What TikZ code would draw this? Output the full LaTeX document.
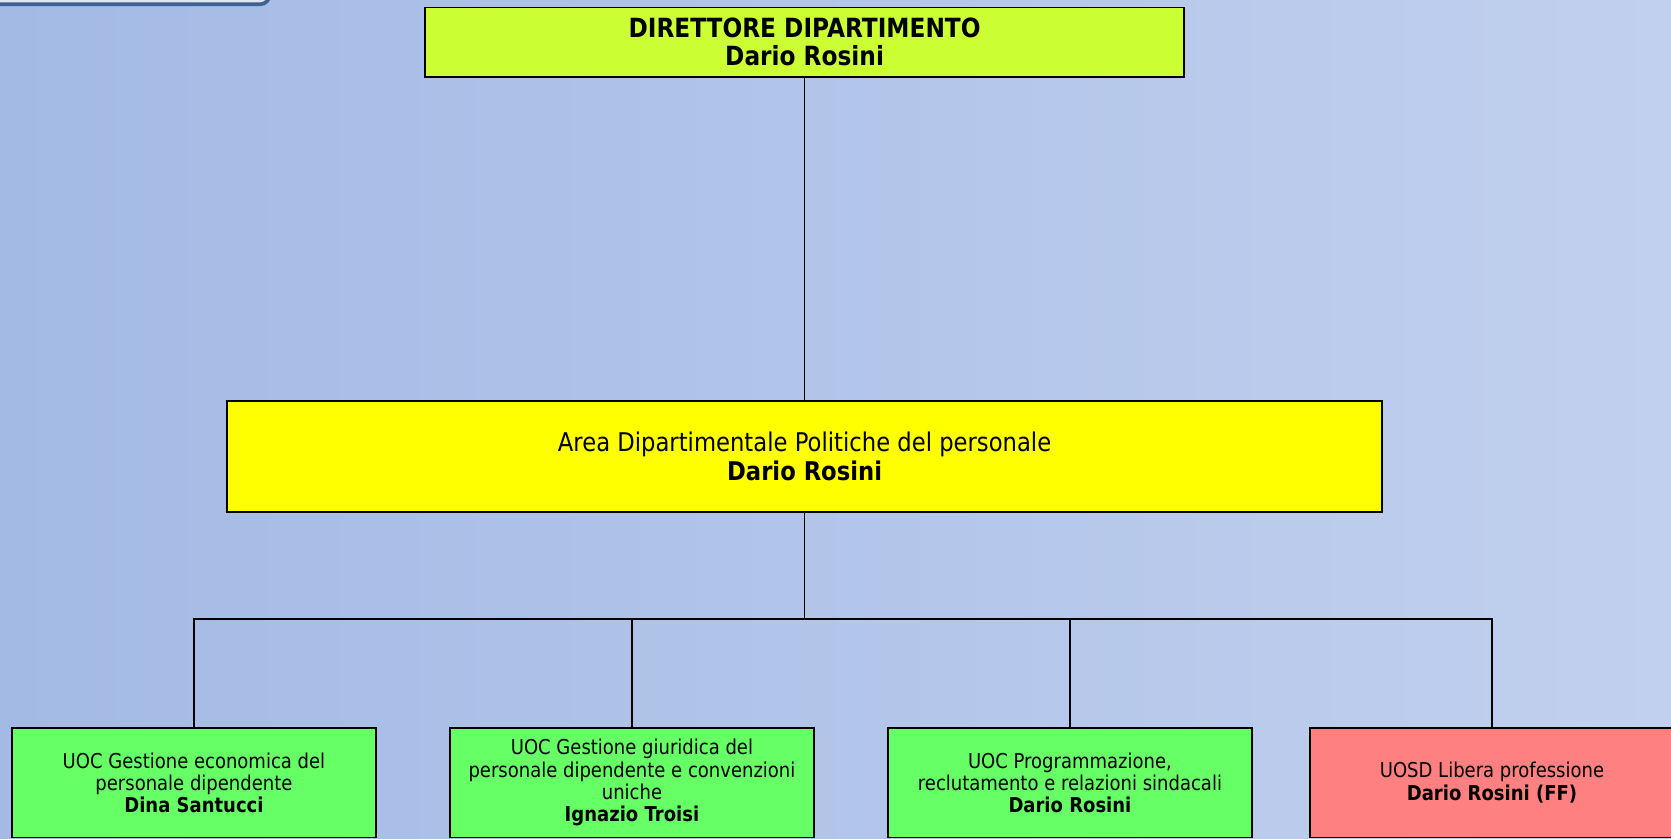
\documentclass[tikz,border=0pt]{standalone}
\usepackage{fontspec}
\setmainfont{DejaVu Sans}[FakeStretch=0.88]
\definecolor{bgL}{RGB}{163,186,229}
\definecolor{bgR}{RGB}{193,208,238}
\definecolor{dirfill}{RGB}{204,255,51}
\definecolor{areafill}{RGB}{255,255,0}
\definecolor{uocfill}{RGB}{102,255,102}
\definecolor{uosdfill}{RGB}{255,128,128}
\definecolor{tabedge}{RGB}{61,99,148}
\definecolor{tabfill}{RGB}{222,230,240}
\begin{document}
\begin{tikzpicture}[x=1pt,y=-1pt,
  orgbox/.style={draw=black, line width=1.5pt, align=center, inner sep=0pt},
  dirbox/.style={orgbox, fill=dirfill, minimum width=712pt, minimum height=65pt,
    font=\fontsize{24.8}{26}\selectfont\bfseries},
  areabox/.style={orgbox, fill=areafill, minimum width=1084pt, minimum height=104pt,
    font=\fontsize{24.2}{27}\selectfont},
  unitbox/.style={orgbox, minimum width=342pt, minimum height=103pt,
    font=\fontsize{19.2}{21}\selectfont},
  conn/.style={draw=black, line width=1.4pt}]
\useasboundingbox (0,0) rectangle (1568,787);
\shade[left color=bgL, right color=bgR] (0,0) rectangle (1568,787);
% partial tab at top left
\draw[draw=tabedge, fill=tabfill, line width=3.5pt, rounded corners=9pt]
  (-20,-30) rectangle (253,4);
% nodes
\node[dirbox] (dir) at (755,39.5) {DIRETTORE DIPARTIMENTO\\Dario Rosini};
\node[areabox] (area) at (755,428.5) {Area Dipartimentale Politiche del personale\\\textbf{Dario Rosini}};
\node[unitbox, fill=uocfill] (b1) at (182,734.5)
  {UOC Gestione economica del\\personale dipendente\\\textbf{Dina Santucci}};
\node[unitbox, fill=uocfill] (b2) at (593,734.5)
  {UOC Gestione giuridica del\\personale dipendente e convenzioni\\uniche\\\textbf{Ignazio Troisi}};
\node[unitbox, fill=uocfill] (b3) at (1004,734.5)
  {UOC Programmazione,\\reclutamento e relazioni sindacali\\\textbf{Dario Rosini}};
\node[unitbox, fill=uosdfill] (b4) at (1400,734.5)
  {UOSD Libera professione\\\textbf{Dario Rosini (FF)}};
\coordinate (bus) at (755,581);
% connectors
\draw[conn] (dir.south) -- (area.north);
\draw[conn] (area.south) -- (bus);
\draw[conn] (b1.north) -- (b1.north |- bus) -- (b4.north |- bus) -- (b4.north);
\draw[conn] (b2.north) -- (b2.north |- bus);
\draw[conn] (b3.north) -- (b3.north |- bus);
\end{tikzpicture}
\end{document}
